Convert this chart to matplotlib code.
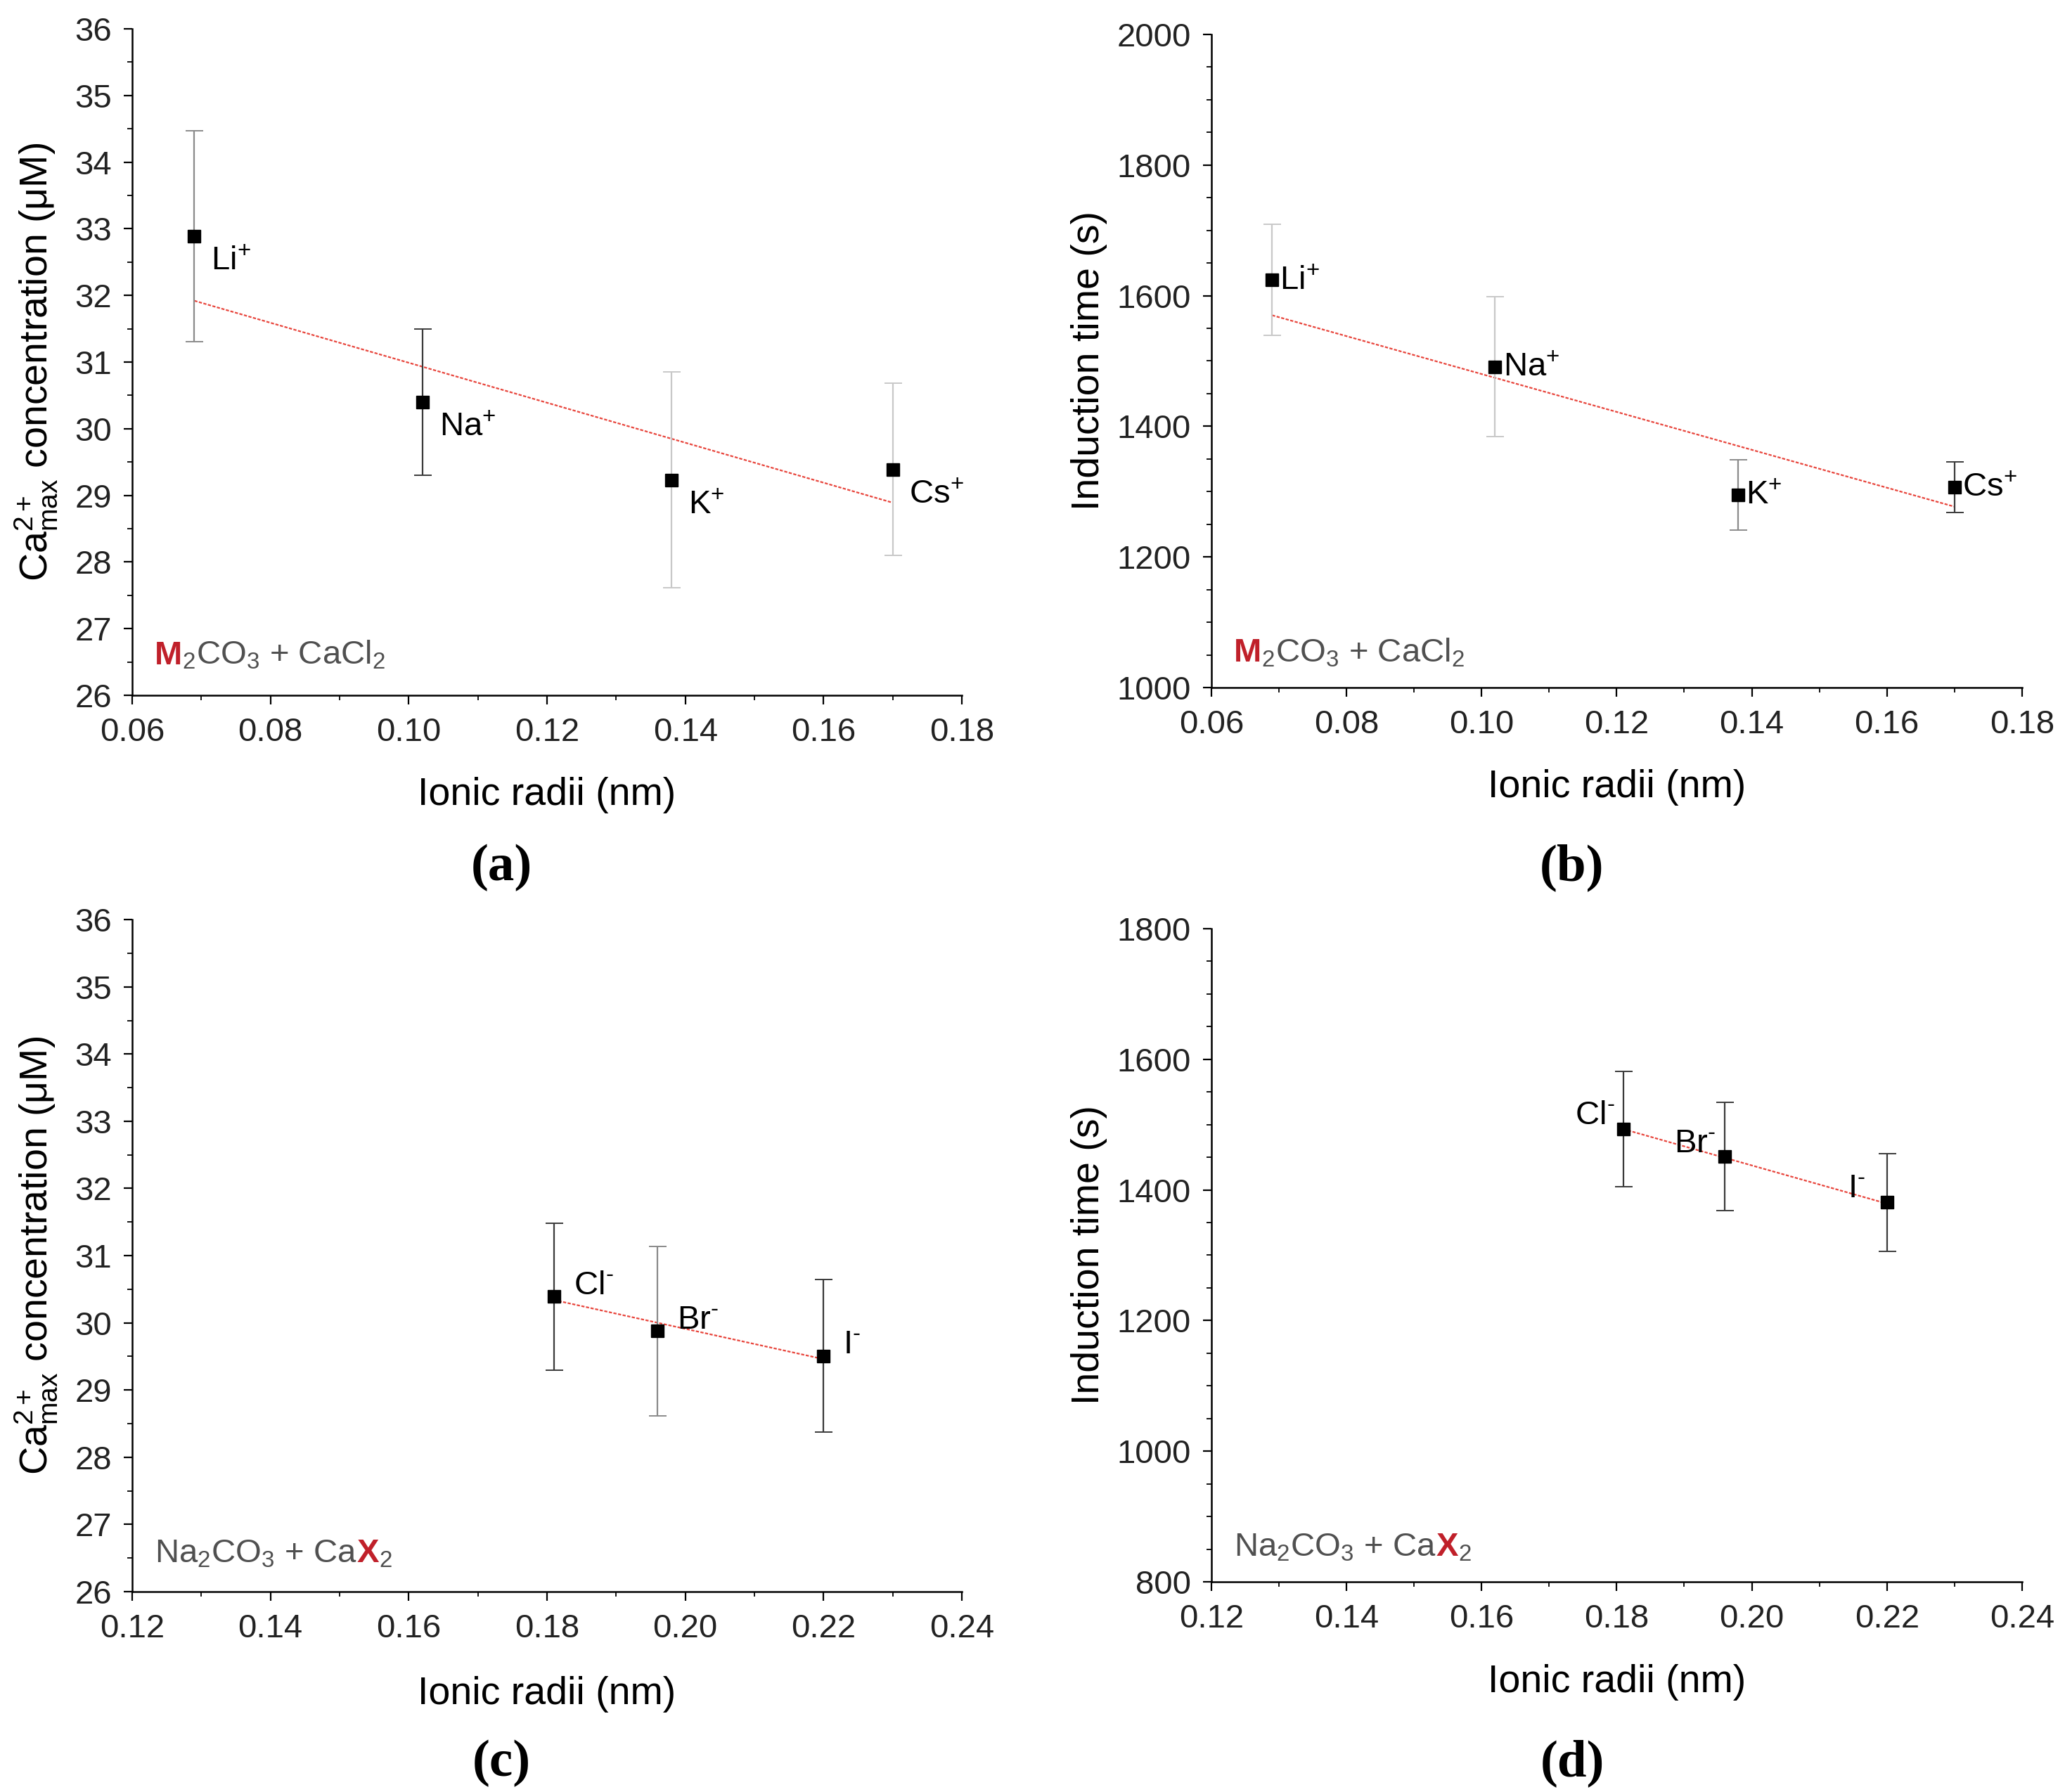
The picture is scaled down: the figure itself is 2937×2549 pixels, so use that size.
import numpy as np
import matplotlib
matplotlib.use('Agg')
import matplotlib.pyplot as plt
from matplotlib.ticker import MultipleLocator

plt.rcParams['font.family'] = ['Liberation Sans', 'DejaVu Sans']
plt.rcParams['mathtext.fontset'] = 'custom'
plt.rcParams['mathtext.rm'] = 'Liberation Sans'
plt.rcParams['mathtext.it'] = 'Liberation Sans:italic'
plt.rcParams['mathtext.bf'] = 'Liberation Sans:bold'

# (a) cation series, Ca2+max concentration
cat_labels = ['Li$^{+}$', 'Na$^{+}$', 'K$^{+}$', 'Cs$^{+}$']
cat_radii = [0.069, 0.102, 0.138, 0.170]
conc_cat = [32.89, 30.40, 29.23, 29.39]
conc_cat_err = [1.58, 1.10, 1.62, 1.29]
conc_cat_fit = [31.92, 28.89]

# (b) cation series, induction time
time_cat = [1624, 1491, 1295, 1307]
time_cat_err = [85, 107, 54, 39]
time_cat_fit = [1570, 1277]

# (c) anion series, Ca2+max concentration
an_labels = ['Cl$^{\\text{-}}$', 'Br$^{\\text{-}}$', 'I$^{\\text{-}}$']
an_radii = [0.181, 0.196, 0.220]
conc_an = [30.39, 29.88, 29.51]
conc_an_err = [1.09, 1.26, 1.14]
conc_an_fit = [30.34, 29.46]

# (d) anion series, induction time
time_an = [1493, 1451, 1381]
time_an_err = [88, 83, 75]
time_an_fit = [1493, 1379]

ylab_conc = 'Ca$^{2+}_{\\mathrm{max}}$ concentration (μM)'
ylab_time = 'Induction time (s)'

fig = plt.figure(figsize=(29.37, 25.49), dpi=100)

panels = [
    # rect, x, y, err, fit, labels, err colours, label offsets, xlim, ylim, ymajor, yminor,
    # ylabel, ylabel x, xlabel y, formula, formula pos, tag, tag y
    ([0.0640, 0.6120, 0.4018, 0.3719], cat_radii, conc_cat, conc_cat_err, conc_cat_fit, cat_labels,
     ['#8a8a8a', '#3a3a3a', '#c8c8c8', '#c8c8c8'], [(17, -26)] * 4, (0.06, 0.18), (26, 36), 1, 0.5,
     ylab_conc, -0.088, -0.122, 'M', (0.027, 0.036), '(a)', 0.516),
    ([0.5866, 0.6163, 0.3926, 0.3645], cat_radii, time_cat, time_cat_err, time_cat_fit, cat_labels,
     ['#c8c8c8', '#c8c8c8', '#8a8a8a', '#3a3a3a'], [(8, -1)] * 4, (0.06, 0.18), (1000, 2000), 200, 50,
     ylab_time, -0.128, -0.125, 'M', (0.028, 0.029), '(b)', 0.516),
    ([0.0640, 0.1118, 0.4018, 0.3750], an_radii, conc_an, conc_an_err, conc_an_fit, an_labels,
     ['#3a3a3a', '#8a8a8a', '#3a3a3a'], [(20, 11)] * 3, (0.12, 0.24), (26, 36), 1, 0.5,
     ylab_conc, -0.088, -0.1255, 'X', (0.027, 0.033), '(c)', 0.016),
    ([0.5866, 0.1173, 0.3926, 0.3645], an_radii, time_an, time_an_err, time_an_fit, an_labels,
     ['#3a3a3a', '#3a3a3a', '#3a3a3a'], [(-50, 14), (-52, 13), (-40, 14)], (0.12, 0.24), (800, 1800), 200, 50,
     ylab_time, -0.128, -0.126, 'X', (0.028, 0.029), '(d)', 0.016),
]

for (rect, xs, ys, es, fit, labels, ecols, offs, xlim, ylim, ymaj, ymin,
     ylab, ylx, xly, red, fpos, tag, tag_y) in panels:
    ax = fig.add_axes(rect)
    for sp in ['top', 'right']:
        ax.spines[sp].set_visible(False)
    for sp in ['left', 'bottom']:
        ax.spines[sp].set_linewidth(1.8)
    ax.set_xlim(*xlim)
    ax.set_ylim(*ylim)
    ax.xaxis.set_major_locator(MultipleLocator(0.02))
    ax.xaxis.set_minor_locator(MultipleLocator(0.01))
    ax.yaxis.set_major_locator(MultipleLocator(ymaj))
    ax.yaxis.set_minor_locator(MultipleLocator(ymin))
    ax.xaxis.set_major_formatter(plt.FormatStrFormatter('%.2f'))
    ax.tick_params(which='major', direction='out', length=9, width=1.6, labelsize=34,
                   colors='black', labelcolor='#222222')
    ax.tick_params(axis='x', which='major', pad=13)
    ax.tick_params(axis='y', which='major', pad=12)
    ax.tick_params(which='minor', direction='out', length=5, width=1.3, colors='black')

    # linear fit line between the first and last radius
    ax.plot([xs[0], xs[-1]], fit, color='#e8453c', lw=1.6, ls=(0, (2, 1)), zorder=2)

    for i in range(len(xs)):
        ax.errorbar(xs[i], ys[i], yerr=es[i], fmt='s', ms=13, mfc='black', mec='black',
                    ecolor=ecols[i], elinewidth=1.6, capsize=9, capthick=1.4, zorder=3)
        ax.annotate(labels[i], (xs[i], ys[i]), xytext=offs[i], textcoords='offset points',
                    ha='left', va='center', fontsize=34, color='black')

    ax.set_ylabel(ylab, fontsize=40)
    ax.set_xlabel('Ionic radii (nm)', fontsize=40)
    ax.yaxis.set_label_coords(ylx, 0.5)
    ax.xaxis.set_label_coords(0.5, xly)

    # reaction formula with the varied ion in red
    fs = 34
    if red == 'M':
        t1 = ax.text(fpos[0], fpos[1], 'M', transform=ax.transAxes, fontsize=fs,
                     color='#c0202a', fontweight='bold', ha='left', va='bottom')
        ax.annotate('${}_{2}$CO${}_{3}$ + CaCl${}_{2}$', xy=(1, 0), xycoords=t1,
                    fontsize=fs, color='#505050', ha='left', va='bottom')
    else:
        t1 = ax.text(fpos[0], fpos[1], 'Na${}_{2}$CO${}_{3}$ + Ca', transform=ax.transAxes,
                     fontsize=fs, color='#505050', ha='left', va='bottom')
        t2 = ax.annotate('X', xy=(1, 0), xycoords=t1, fontsize=fs, color='#c0202a',
                         fontweight='bold', ha='left', va='bottom')
        ax.annotate('${}_{2}$', xy=(1, 0), xycoords=t2, fontsize=fs, color='#505050',
                    ha='left', va='bottom')

    fig.text(rect[0] + rect[2] * 0.445, tag_y, tag, fontsize=54,
             family=['Liberation Serif', 'DejaVu Serif'], fontweight='bold',
             ha='center', va='center')

fig.savefig('out.png', dpi=100)
